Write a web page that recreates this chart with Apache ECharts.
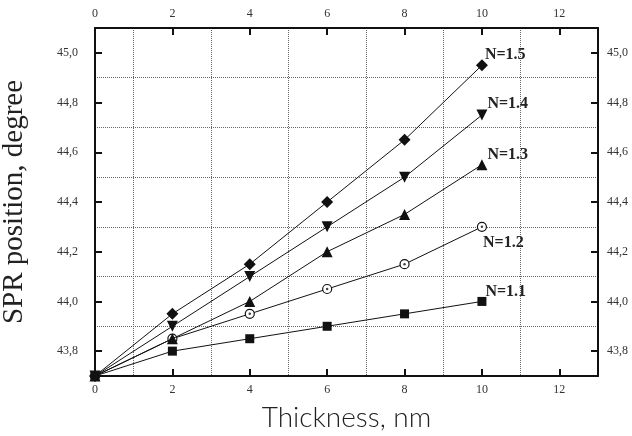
<!DOCTYPE html>
<html>
<head>
<meta charset="utf-8">
<script src="https://cdn.jsdelivr.net/npm/echarts@6/dist/echarts.min.js"></script>
<style>
  html, body { margin: 0; padding: 0; background: #fff; }
  #chart { width: 632px; height: 436px; }
</style>
</head>
<body>
<div id="chart"></div>
<script>
// Film thickness (nm) at which the resonance angle was computed
const thickness = [0, 2, 4, 6, 8, 10];

// SPR resonance angle (degrees) for each refractive index of the layer
const n15 = [43.70, 43.95, 44.15, 44.40, 44.65, 44.95];
const n14 = [43.70, 43.90, 44.10, 44.30, 44.50, 44.75];
const n13 = [43.70, 43.85, 44.00, 44.20, 44.35, 44.55];
const n12 = [43.70, 43.85, 43.95, 44.05, 44.15, 44.30];
const n11 = [43.70, 43.80, 43.85, 43.90, 43.95, 44.00];

const seriesNames = ['N=1.5', 'N=1.4', 'N=1.3', 'N=1.2', 'N=1.1'];

// Labelled ticks and the dotted grid lines between them
const xTicks = [0, 2, 4, 6, 8, 10, 12];
const xGrid = [1, 3, 5, 7, 9, 11];
const yTicks = [43.8, 44.0, 44.2, 44.4, 44.6, 44.8, 45.0];
const yGrid = [43.9, 44.1, 44.3, 44.5, 44.7, 44.9];

const X_MIN = 0, X_MAX = 13;
const Y_MIN = 43.7, Y_MAX = 45.1;

const serif = '"Liberation Serif", "Times New Roman", serif';
const ink = '#111';

function pairs(vals) {
  return thickness.map((t, i) => [t, vals[i]]);
}

function commaFmt(v) {
  return Number(v).toFixed(1).replace('.', ',');
}

function labelAxisX(position) {
  return {
    type: 'value', position: position, min: X_MIN, max: X_MAX,
    axisLine: { show: true, onZero: false, lineStyle: { color: ink, width: 2 } },
    axisTick: { show: true, inside: true, length: 7, customValues: xTicks, lineStyle: { color: ink, width: 2 } },
    axisLabel: { show: true, customValues: xTicks, margin: 8, fontFamily: serif, fontSize: 12, color: '#333' },
    splitLine: { show: false }
  };
}

function labelAxisY(position, margin) {
  return {
    type: 'value', position: position, min: Y_MIN, max: Y_MAX,
    axisLine: { show: true, onZero: false, lineStyle: { color: ink, width: 2 } },
    axisTick: { show: true, inside: true, length: 7, customValues: yTicks, lineStyle: { color: ink, width: 2 } },
    axisLabel: { show: true, customValues: yTicks, margin: margin, fontFamily: serif, fontSize: 12, color: '#333', formatter: commaFmt },
    splitLine: { show: false }
  };
}

const gridLine = { show: true, lineStyle: { color: '#666', width: 1, type: [1, 1] } };

function gridAxis(position, min, max, values) {
  return {
    type: 'value', position: position, min: min, max: max,
    axisLine: { show: false },
    axisTick: { show: false, customValues: values },
    axisLabel: { show: false, customValues: values },
    splitLine: gridLine
  };
}

const lineStyle = { color: ink, width: 1 };

function curve(name, vals, symbol, size, extra, labelOffset) {
  const last = vals.length - 1;
  return Object.assign({
    name: name,
    type: 'line',
    xAxisIndex: 0,
    yAxisIndex: 0,
    data: pairs(vals),
    symbol: symbol,
    symbolSize: size,
    showAllSymbol: true,
    lineStyle: lineStyle,
    itemStyle: { color: ink },
    label: {
      show: true,
      position: 'right',
      distance: 0,
      offset: labelOffset,
      fontFamily: serif,
      fontWeight: 'bold',
      fontSize: 16,
      color: '#222',
      formatter: p => (p.dataIndex === last ? name : '')
    },
    emphasis: { disabled: true },
    animation: false,
    z: 3
  }, extra || {});
}

const option = {
  backgroundColor: '#fff',
  animation: false,
  grid: { left: 95, right: 34, top: 28, bottom: 60, containLabel: false, outerBoundsMode: 'none' },
  xAxis: [
    Object.assign(labelAxisX('bottom'), {
      name: 'Thickness, nm',
      nameLocation: 'middle',
      nameGap: 28,
      nameTextStyle: { fontFamily: 'Lato, "Noto Sans", sans-serif', fontWeight: 300, fontSize: 28, color: '#222' }
    }),
    labelAxisX('top'),
    gridAxis('bottom', X_MIN, X_MAX, xGrid)
  ],
  yAxis: [
    Object.assign(labelAxisY('left', 17), {
      name: 'SPR position, degree',
      nameLocation: 'middle',
      nameGap: 66,
      nameTextStyle: { fontFamily: serif, fontSize: 29, color: '#222' }
    }),
    labelAxisY('right', 9),
    gridAxis('left', Y_MIN, Y_MAX, yGrid)
  ],
  series: [
    curve(seriesNames[0], n15, 'diamond', 12, null, [-3, -10]),
    curve(seriesNames[1], n14, 'triangle', 11, { symbolRotate: 180 }, [0, -11]),
    curve(seriesNames[2], n13, 'triangle', 11, { z: 5 }, [0, -10]),
    curve(seriesNames[3], n12, 'circle', 9,
      { itemStyle: { color: '#fff', borderColor: ink, borderWidth: 1.2 } }, [-4, 16]),
    // centre dots of the open circles
    {
      type: 'scatter', xAxisIndex: 0, yAxisIndex: 0,
      data: pairs(n12).slice(1), symbol: 'circle', symbolSize: 2.5,
      itemStyle: { color: ink }, silent: true, animation: false, z: 4
    },
    curve(seriesNames[4], n11, 'rect', 9, null, [-1, -10])
  ]
};

const chart = echarts.init(document.getElementById('chart'), null, { renderer: 'canvas' });
chart.setOption(option);
</script>
</body>
</html>
